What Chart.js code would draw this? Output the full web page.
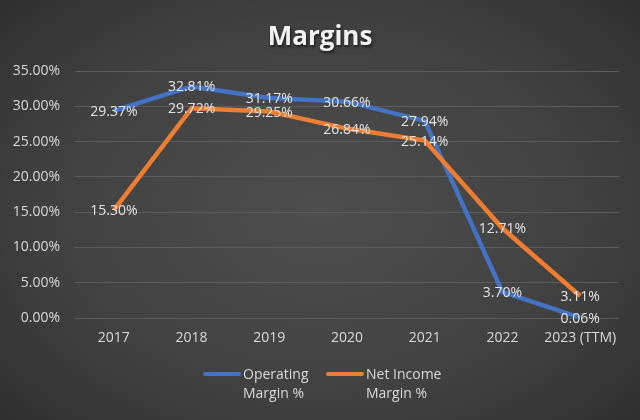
<!DOCTYPE html>
<html>
<head>
<meta charset="utf-8">
<script src="https://cdn.jsdelivr.net/npm/chart.js@4.4.1/dist/chart.umd.min.js"></script>
<style>
  html, body { margin: 0; padding: 0; }
  body {
    width: 640px; height: 420px; overflow: hidden;
    background: radial-gradient(ellipse 75% 80% at 50% 50%, #4e4e4e 0%, #414141 55%, #2b2b2b 100%);
  }
  #wrap { position: relative; width: 640px; height: 420px; }
</style>
</head>
<body>
<div id="wrap"><canvas id="c" width="640" height="420"></canvas></div>
<script>
const categories = ["2017", "2018", "2019", "2020", "2021", "2022", "2023 (TTM)"];
const operatingMargin = [29.37, 32.81, 31.17, 30.66, 27.94, 3.70, 0.06];
const netIncomeMargin = [15.30, 29.72, 29.25, 26.84, 25.14, 12.71, 3.11];
const seriesNames = [["Operating", "Margin %"], ["Net Income", "Margin %"]];
const yTicks = [0, 5, 10, 15, 20, 25, 30, 35];
const titleText = "Margins";

const FONT = "'Open Sans', 'DejaVu Sans', sans-serif";
const BLUE = "#4472C4";
const ORANGE = "#ED7D31";

const labelPlugin = {
  id: "pointLabels",
  afterDatasetsDraw(chart) {
    const ctx = chart.ctx;
    ctx.save();
    ctx.font = "14px " + FONT;
    ctx.fillStyle = "#e4e4e4";
    ctx.textAlign = "center";
    ctx.textBaseline = "middle";
    chart.data.datasets.forEach((ds, i) => {
      const meta = chart.getDatasetMeta(i);
      meta.data.forEach((pt, j) => {
        ctx.fillText(ds.data[j].toFixed(2) + "%", pt.x, pt.y + 1);
      });
    });
    ctx.restore();
  }
};

const titleLegendPlugin = {
  id: "titleLegend",
  afterDraw(chart) {
    const ctx = chart.ctx;
    ctx.save();
    ctx.font = "bold 26px " + FONT;
    ctx.textAlign = "center";
    ctx.textBaseline = "alphabetic";
    ctx.shadowColor = "rgba(0,0,0,0.6)";
    ctx.shadowOffsetX = 1;
    ctx.shadowOffsetY = 2;
    ctx.shadowBlur = 3;
    ctx.fillStyle = "#f2f2f2";
    ctx.fillText(titleText, 320, 45);
    ctx.restore();

    ctx.save();
    const colors = [BLUE, ORANGE];
    const starts = [203, 326];
    ctx.font = "14px " + FONT;
    ctx.textAlign = "left";
    ctx.textBaseline = "middle";
    chart.data.datasets.forEach((ds, i) => {
      const x = starts[i];
      ctx.strokeStyle = colors[i];
      ctx.lineWidth = 4;
      ctx.lineCap = "round";
      ctx.beginPath();
      ctx.moveTo(x + 2, 374);
      ctx.lineTo(x + 36, 374);
      ctx.stroke();
      ctx.fillStyle = "#d9d9d9";
      seriesNames[i].forEach((line, k) => {
        ctx.fillText(line, x + 40, 375 + k * 19);
      });
    });
    ctx.restore();
  }
};

new Chart(document.getElementById("c"), {
  type: "line",
  data: {
    labels: categories,
    datasets: [
      {
        label: seriesNames[0].join(" "),
        data: operatingMargin,
        borderColor: BLUE,
        backgroundColor: BLUE,
        borderWidth: 4.5,
        pointRadius: 0,
        tension: 0,
        order: 2
      },
      {
        label: seriesNames[1].join(" "),
        data: netIncomeMargin,
        borderColor: ORANGE,
        backgroundColor: ORANGE,
        borderWidth: 4.5,
        pointRadius: 0,
        tension: 0,
        order: 1
      }
    ]
  },
  plugins: [labelPlugin, titleLegendPlugin],
  options: {
    responsive: false,
    animation: false,
    devicePixelRatio: 1,
    layout: { padding: { top: 71, left: 0, right: 21, bottom: 72 } },
    plugins: {
      legend: { display: false },
      title: { display: false },
      tooltip: { enabled: false }
    },
    scales: {
      x: {
        offset: true,
        grid: { display: false, drawTicks: false },
        border: { display: false },
        ticks: {
          color: "#d9d9d9",
          font: { family: FONT, size: 14 },
          padding: 12,
          maxRotation: 0,
          autoSkip: false
        },
        afterFit(scale) { scale.height = 30; }
      },
      y: {
        min: 0,
        max: 35,
        afterBuildTicks(scale) { scale.ticks = yTicks.map(v => ({ value: v })); },
        grid: { color: "#5c5c5c", lineWidth: 1, drawTicks: false },
        border: { display: false },
        ticks: {
          color: "#d9d9d9",
          font: { family: FONT, size: 14 },
          padding: 15,
          callback: v => Number(v).toFixed(2) + "%"
        },
        afterFit(scale) { scale.width = 75; }
      }
    }
  }
});
</script>
</body>
</html>
